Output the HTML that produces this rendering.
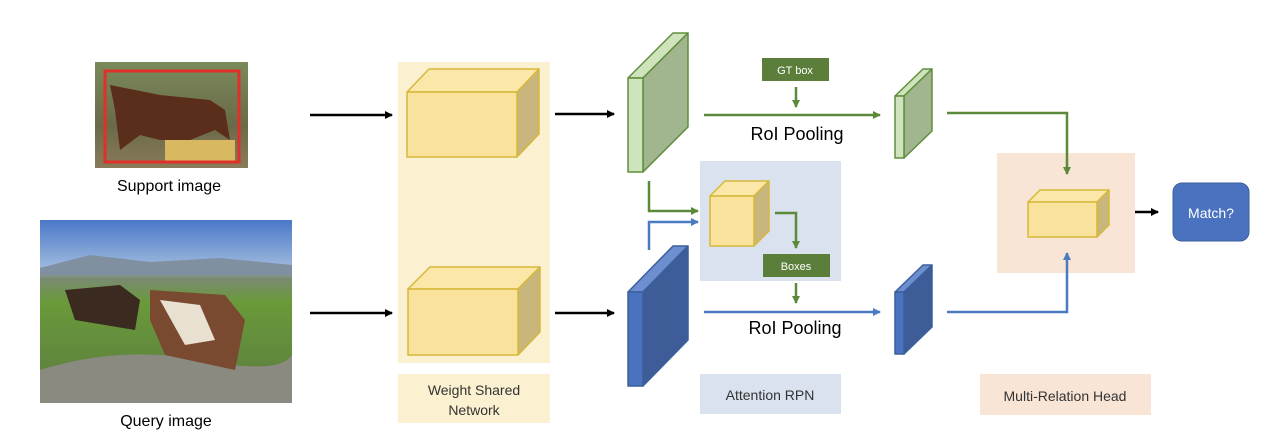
<!DOCTYPE html>
<html><head><meta charset="utf-8"><style>
body{margin:0;background:#fff;width:1268px;height:448px;overflow:hidden}
svg{display:block}
text{font-family:"Liberation Sans",sans-serif}
</style></head><body>
<svg width="1268" height="448" viewBox="0 0 1268 448">
<defs>
<marker id="ak" markerWidth="8" markerHeight="8" refX="7" refY="4" orient="auto" markerUnits="userSpaceOnUse"><path d="M0,0 L8,4 L0,8z" fill="#000"/></marker>
<marker id="ag" markerWidth="8" markerHeight="8" refX="7" refY="4" orient="auto" markerUnits="userSpaceOnUse"><path d="M0,0 L8,4 L0,8z" fill="#5b8a3a"/></marker>
<marker id="ab" markerWidth="8" markerHeight="8" refX="7" refY="4" orient="auto" markerUnits="userSpaceOnUse"><path d="M0,0 L8,4 L0,8z" fill="#4a7ac0"/></marker>
<linearGradient id="sky" x1="0" y1="0" x2="0" y2="1"><stop offset="0" stop-color="#4a78c8"/><stop offset="0.25" stop-color="#9ab6dc"/><stop offset="0.32" stop-color="#7a8a70"/><stop offset="0.45" stop-color="#6a9a3a"/><stop offset="1" stop-color="#5a7a40"/></linearGradient>
<linearGradient id="sup" x1="0" y1="0" x2="0" y2="1"><stop offset="0" stop-color="#7a8a5a"/><stop offset="0.6" stop-color="#6a6a48"/><stop offset="1" stop-color="#8a7a5a"/></linearGradient>
</defs>
<!-- images -->
<rect x="95" y="62" width="153" height="106" fill="url(#sup)"/>
<path d="M110,85 L160,95 L210,100 L225,110 L230,140 L215,130 L190,140 L160,140 L140,135 L120,150 L115,110z" fill="#5a2e1a"/>
<rect x="165" y="140" width="70" height="22" fill="#d8b860"/>
<rect x="105" y="71" width="134" height="91" fill="none" stroke="#e0302a" stroke-width="3"/>
<text x="169" y="191" font-size="16" text-anchor="middle">Support image</text>
<rect x="40" y="220" width="252" height="183" fill="url(#sky)"/>
<path d="M40,268 L90,255 L150,262 L220,258 L292,265 L292,275 L40,275z" fill="#8090a0"/>
<path d="M40,370 Q120,345 200,360 T292,355 L292,403 L40,403z" fill="#8a8a80"/>
<path d="M65,290 L120,285 L140,300 L135,330 L75,320z" fill="#3a2a20"/>
<path d="M150,290 L225,295 L245,320 L235,370 L165,355 L150,320z" fill="#7a4a30"/>
<path d="M160,300 L200,305 L215,340 L185,345z" fill="#e8e0d0"/>
<text x="166" y="426" font-size="16" text-anchor="middle">Query image</text>
<!-- weight shared -->
<rect x="398" y="62" width="152" height="301" fill="#fbf0cf"/>
<rect x="398" y="374" width="152" height="49" fill="#fbf0cf"/>
<text x="474" y="395" font-size="14" text-anchor="middle" fill="#333">Weight Shared</text>
<text x="474" y="415" font-size="14" text-anchor="middle" fill="#333">Network</text>
<g stroke="#d6b83a" stroke-width="1.5" stroke-linejoin="round">
<polygon points="407,92 429,69 539,69 517,92" fill="#fbe7a8"/>
<polygon points="517,92 539,69 539,134 517,157" fill="#c9b67c"/>
<rect x="407" y="92" width="110" height="65" fill="#f9e39c"/>
<polygon points="408,289 430,267 540,267 518,289" fill="#fbe7a8"/>
<polygon points="518,289 540,267 540,332 518,355" fill="#c9b67c"/>
<rect x="408" y="289" width="110" height="66" fill="#f9e39c"/>
</g>
<g stroke="#000" stroke-width="2.5" fill="none">
<line x1="310" y1="115" x2="392" y2="115" marker-end="url(#ak)"/>
<line x1="310" y1="313" x2="392" y2="313" marker-end="url(#ak)"/>
<line x1="555" y1="114" x2="614" y2="114" marker-end="url(#ak)"/>
<line x1="555" y1="313" x2="614" y2="313" marker-end="url(#ak)"/>
<line x1="1120" y1="212" x2="1158" y2="212" marker-end="url(#ak)"/>
</g>
<!-- feature slabs -->
<g stroke="#5f8f3c" stroke-width="1.5" stroke-linejoin="round">
<polygon points="628,78 673,33 688,33 643,78" fill="#cfe3bd"/>
<polygon points="643,78 688,33 688,127 643,172" fill="#a1b58f"/>
<rect x="628" y="78" width="15" height="94" fill="#cfe3bd"/>
<polygon points="895,96 923,69 932,69 904,96" fill="#cfe3bd"/>
<polygon points="904,96 932,69 932,131 904,158" fill="#a1b58f"/>
<rect x="895" y="96" width="9" height="62" fill="#cfe3bd"/>
</g>
<g stroke="#3b5f9c" stroke-width="1.5" stroke-linejoin="round">
<polygon points="628,292 673,246 688,246 643,292" fill="#6d8fcf"/>
<polygon points="643,292 688,246 688,340 643,386" fill="#3d5c98"/>
<rect x="628" y="292" width="15" height="94" fill="#4a72bf"/>
<polygon points="895,292 923,265 932,265 904,292" fill="#6d8fcf"/>
<polygon points="904,292 932,265 932,327 904,354" fill="#3d5c98"/>
<rect x="895" y="292" width="9" height="62" fill="#4a72bf"/>
</g>
<!-- attention RPN -->
<rect x="700" y="161" width="141" height="120" fill="#dbe2ef"/>
<rect x="700" y="374" width="141" height="40" fill="#dbe2ef"/>
<text x="770" y="400" font-size="14" text-anchor="middle" fill="#333">Attention RPN</text>
<g stroke="#d6b83a" stroke-width="1.5" stroke-linejoin="round">
<polygon points="710,196 725,181 769,181 754,196" fill="#fbe7a8"/>
<polygon points="754,196 769,181 769,231 754,246" fill="#c9b67c"/>
<rect x="710" y="196" width="44" height="50" fill="#f9e39c"/>
</g>
<rect x="762" y="58" width="67" height="23" fill="#5b7f3a"/>
<text x="795" y="74" font-size="11" text-anchor="middle" fill="#fff">GT box</text>
<rect x="763" y="254" width="67" height="23" fill="#5b7f3a"/>
<text x="796" y="270" font-size="11" text-anchor="middle" fill="#fff">Boxes</text>
<!-- multi relation panel -->
<rect x="997" y="153" width="138" height="120" fill="#f8e5d6"/>
<rect x="980" y="374" width="171" height="41" fill="#f8e5d6"/>
<text x="1065" y="401" font-size="14" text-anchor="middle" fill="#333">Multi-Relation Head</text>
<g stroke="#d6b83a" stroke-width="1.5" stroke-linejoin="round">
<polygon points="1028,202 1040,190 1109,190 1097,202" fill="#fbe7a8"/>
<polygon points="1097,202 1109,190 1109,225 1097,237" fill="#c9b67c"/>
<rect x="1028" y="202" width="69" height="35" fill="#f9e39c"/>
</g>
<g stroke="#5b8a3a" stroke-width="2.5" fill="none">
<line x1="796" y1="87" x2="796" y2="107" marker-end="url(#ag)"/>
<line x1="704" y1="115" x2="880" y2="115" marker-end="url(#ag)"/>
<polyline points="649,181 649,211 698,211" marker-end="url(#ag)"/>
<polyline points="775,213 796,213 796,248" marker-end="url(#ag)"/>
<line x1="796" y1="283" x2="796" y2="303" marker-end="url(#ag)"/>
<polyline points="947,113 1067,113 1067,174" marker-end="url(#ag)"/>
</g>
<g stroke="#4a7ac0" stroke-width="2.5" fill="none">
<line x1="704" y1="312" x2="880" y2="312" marker-end="url(#ab)"/>
<polyline points="649,250 649,222 698,222" marker-end="url(#ab)"/>
<polyline points="947,312 1067,312 1067,253" marker-end="url(#ab)"/>
</g>
<text x="797" y="140" font-size="18" text-anchor="middle">RoI Pooling</text>
<text x="795" y="334" font-size="18" text-anchor="middle">RoI Pooling</text>
<rect x="1173" y="183" width="76" height="58" rx="9" fill="#4a72bf" stroke="#3b5f9c"/>
<text x="1211" y="218" font-size="14" text-anchor="middle" fill="#fff">Match?</text>
</svg>
</body></html>
